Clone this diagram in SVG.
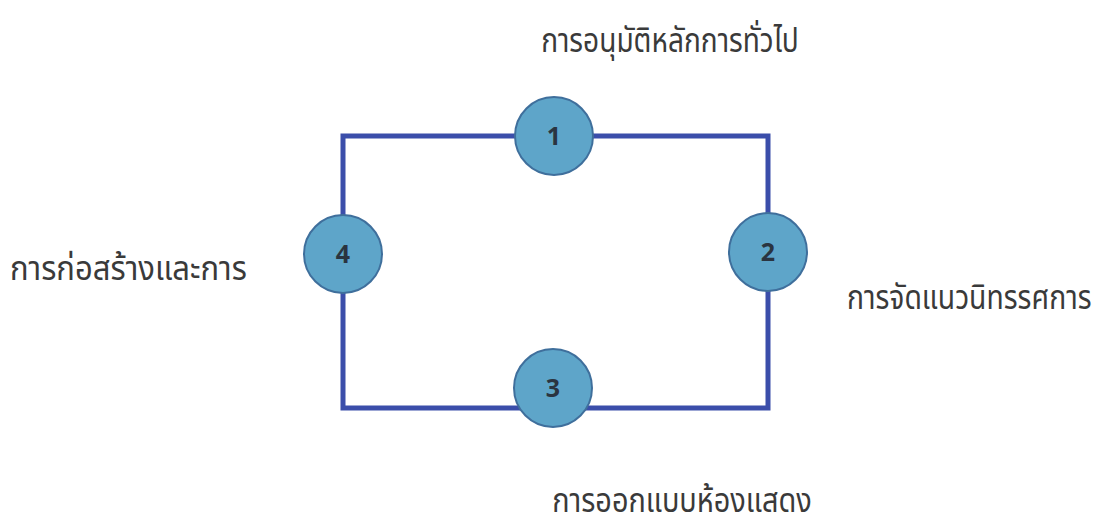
<svg xmlns="http://www.w3.org/2000/svg" width="1104" height="525" viewBox="0 0 1104 525">
<style>
.edge{fill:none;stroke:#3b4eaa;stroke-width:5}
.node{fill:#5ea5c9;stroke:#3f6f9c;stroke-width:2}
.num{font-family:"Open Sans","Liberation Sans",sans-serif;font-weight:bold;font-size:25px;fill:#2a3440;text-anchor:middle}
.lbl{font-family:"Noto Sans","Noto Sans Thai","DejaVu Sans",sans-serif;font-size:27px;fill:#3a3a3a}
</style>
<rect width="1104" height="525" fill="#ffffff"/>
<g id="connectors">
<path class="edge" d="M343,254 V136 H554 M554,136 H768 V252 M768,252 V408 H553 M553,408 H343 V254"/>
</g>
<g id="node1"><circle class="node" cx="554" cy="136" r="39"/><text class="num" x="554" y="145">1</text></g>
<g id="node2"><circle class="node" cx="768" cy="252" r="39"/><text class="num" x="768" y="261">2</text></g>
<g id="node3"><circle class="node" cx="553" cy="388" r="39"/><text class="num" x="553" y="397">3</text></g>
<g id="node4"><circle class="node" cx="343" cy="254" r="39"/><text class="num" x="343" y="263">4</text></g>
<g id="labels">
<text class="lbl" transform="translate(670,52) scale(1.04,1.25)" text-anchor="middle">การอนุมัติหลักการทั่วไป</text>
<text class="lbl" transform="translate(10,280) scale(1.15,1.25)">การก่อสร้างและการ</text>
<text class="lbl" transform="translate(847,309) scale(1.05,1.25)">การจัดแนวนิทรรศการ</text>
<text class="lbl" transform="translate(682,512) scale(1.07,1.25)" text-anchor="middle">การออกแบบห้องแสดง</text>
</g>
</svg>
